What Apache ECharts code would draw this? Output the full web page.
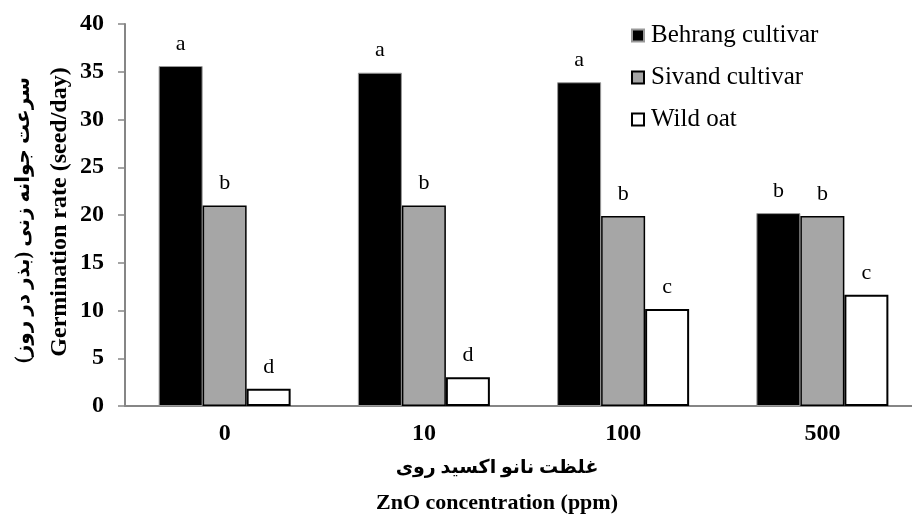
<!DOCTYPE html>
<html>
<head>
<meta charset="utf-8">
<script src="https://cdn.jsdelivr.net/npm/echarts@6/dist/echarts.min.js"></script>
<style>html,body{margin:0;padding:0;background:#fff;overflow:hidden;width:912px;height:523px;}#c{width:922px;height:523px;}</style>
</head>
<body>
<div id="c"></div>
<script>
var categories = ['0', '10', '100', '500'];
var behrang = [35.6, 34.9, 33.9, 20.2];
var sivand = [21.0, 21.0, 19.9, 19.9];
var wildOat = [1.8, 3.0, 10.15, 11.65];
var behrangLetters = ['a', 'a', 'a', 'b'];
var sivandLetters = ['b', 'b', 'b', 'b'];
var wildOatLetters = ['d', 'd', 'c', 'c'];
var yTicks = [0, 5, 10, 15, 20, 25, 30, 35, 40];

var serif = '"Liberation Serif", "Times New Roman", "DejaVu Sans", serif';
var RLM = '\u200F';

function letterLabel(letters) {
  return {
    show: true, position: 'top', distance: 11,
    fontFamily: serif, fontSize: 22, color: '#000',
    formatter: function (p) { return letters[p.dataIndex]; }
  };
}

var chart = echarts.init(document.getElementById('c'), null, {renderer: 'canvas'});
chart.setOption({
  animation: false,
  backgroundColor: '#fff',
  grid: {left: 125, right: 0, top: 24, bottom: 117, containLabel: false},
  legend: {
    orient: 'vertical', left: 631, top: 23, itemGap: 17, padding: 0,
    itemWidth: 12, itemHeight: 12, icon: 'rect',
    textStyle: {fontFamily: serif, fontSize: 25, color: '#000', padding: [0, 0, 0, 2]},
    data: ['Behrang cultivar', 'Sivand cultivar', 'Wild oat']
  },
  xAxis: {
    type: 'category', data: categories,
    axisLine: {lineStyle: {color: '#868686', width: 2}},
    axisTick: {show: false},
    axisLabel: {fontFamily: serif, fontSize: 24, fontWeight: 'bold', color: '#000', margin: 16}
  },
  yAxis: {
    type: 'value', min: 0, max: 40, interval: 5,
    axisLine: {show: true, lineStyle: {color: '#868686', width: 2}},
    axisTick: {show: true, length: 7, lineStyle: {color: '#868686', width: 1.5}},
    splitLine: {show: false},
    axisLabel: {
      fontFamily: serif, fontSize: 24, fontWeight: 'bold', color: '#000', margin: 21,
      formatter: function (v) { return yTicks.indexOf(v) >= 0 ? String(v) : ''; }
    }
  },
  graphic: [
    {type: 'text', x: 497, y: 468, silent: true,
     style: {text: RLM + 'غلظت نانو اکسید روی' + RLM, fontFamily: serif, fontSize: 19, fontWeight: 'bold',
             fill: '#000', align: 'center', verticalAlign: 'middle'}},
    {type: 'text', x: 497, y: 503, silent: true,
     style: {text: 'ZnO concentration (ppm)', fontFamily: serif, fontSize: 22, fontWeight: 'bold',
             fill: '#000', align: 'center', verticalAlign: 'middle'}},
    {type: 'text', x: 24, y: 220, rotation: Math.PI / 2, silent: true,
     style: {text: RLM + 'سرعت جوانه زنی (بذر در روز)' + RLM, fontFamily: serif, fontSize: 20, fontWeight: 'bold',
             fill: '#000', align: 'center', verticalAlign: 'middle'}},
    {type: 'text', x: 60, y: 212, rotation: Math.PI / 2, silent: true,
     style: {text: 'Germination rate (seed/day)', fontFamily: serif, fontSize: 24, fontWeight: 'bold',
             fill: '#000', align: 'center', verticalAlign: 'middle'}}
  ],
  series: [
    {name: 'Behrang cultivar', type: 'bar', data: behrang, barWidth: 44, barGap: '0%',
     itemStyle: {color: '#000', borderColor: '#999', borderWidth: 1},
     label: letterLabel(behrangLetters)},
    {name: 'Sivand cultivar', type: 'bar', data: sivand, barWidth: 44, barGap: '0%',
     itemStyle: {color: '#a6a6a6', borderColor: '#000', borderWidth: 1.5},
     label: letterLabel(sivandLetters)},
    {name: 'Wild oat', type: 'bar', data: wildOat, barWidth: 44, barGap: '0%',
     itemStyle: {color: '#fff', borderColor: '#000', borderWidth: 2},
     label: letterLabel(wildOatLetters)}
  ]
});
</script>
</body>
</html>
